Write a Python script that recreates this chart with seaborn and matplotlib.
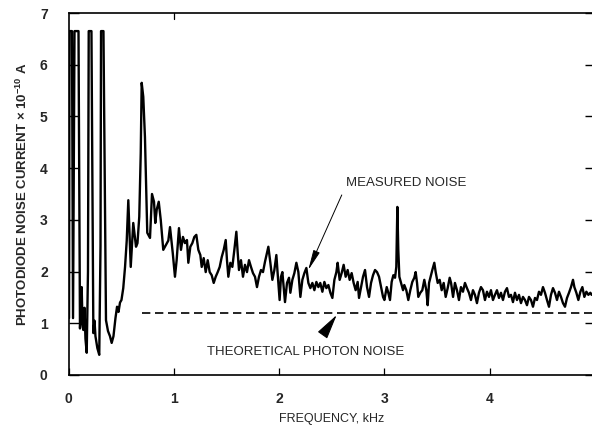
import matplotlib
matplotlib.use("Agg")
import matplotlib.pyplot as plt
import seaborn as sns
import numpy as np
import pandas as pd

# ---- data (kHz, noise current x 1e-10 A) ----
freq_low = [0.005, 0.0095, 0.033, 0.043, 0.057, 0.095, 0.109, 0.119, 0.125, 0.133,
            0.141, 0.152, 0.161, 0.173, 0.185, 0.192, 0.218, 0.236, 0.247, 0.256,
            0.274, 0.292, 0.304, 0.309, 0.332, 0.356, 0.375, 0.394, 0.410, 0.427,
            0.446, 0.461, 0.475, 0.489, 0.503, 0.520, 0.537, 0.553, 0.568, 0.591,
            0.615, 0.641, 0.655, 0.672, 0.686, 0.695, 0.710, 0.726, 0.748, 0.774,
            0.793, 0.812, 0.824, 0.838, 0.857, 0.876, 0.900, 0.921, 0.948, 0.964,
            0.990, 1.002]
noise_low = [1.10, 6.65, 6.65, 1.10, 6.65, 6.65, 0.90, 1.30, 1.70, 1.00,
             0.87, 1.30, 0.70, 0.43, 2.00, 6.65, 6.65, 0.81, 1.05, 0.75,
             0.52, 0.39, 2.50, 6.65, 6.65, 1.06, 0.85, 0.75, 0.62, 0.75,
             1.10, 1.32, 1.22, 1.40, 1.45, 1.68, 2.09, 2.60, 3.38, 2.09,
             2.94, 2.48, 2.55, 3.06, 4.29, 5.65, 5.38, 4.60, 2.75, 2.65,
             3.50, 3.35, 2.94, 3.20, 3.35, 3.00, 2.42, 2.50, 2.60, 2.86,
             2.36, 2.10]

freq_mid = [1.011, 1.027, 1.049, 1.068, 1.087, 1.106, 1.125, 1.138, 1.157, 1.176,
            1.195, 1.214, 1.233, 1.252, 1.265, 1.284, 1.303, 1.322, 1.341, 1.360,
            1.379, 1.398, 1.417, 1.436, 1.455, 1.474, 1.493, 1.505, 1.518, 1.537,
            1.556, 1.575, 1.594, 1.607, 1.619, 1.638, 1.657, 1.676, 1.695, 1.714,
            1.733, 1.752, 1.771, 1.790, 1.809, 1.828, 1.847, 1.866, 1.885, 1.898,
            1.917, 1.936, 1.955, 1.974, 1.986, 2.005, 2.018, 2.031, 2.043, 2.056,
            2.075, 2.094, 2.107, 2.126, 2.145, 2.164, 2.183, 2.202, 2.221, 2.240,
            2.259, 2.278, 2.297, 2.316, 2.335, 2.354, 2.373, 2.391, 2.411, 2.430,
            2.449, 2.468, 2.487, 2.506, 2.525, 2.544, 2.556, 2.575, 2.594, 2.613,
            2.632, 2.651, 2.670, 2.689, 2.708, 2.727, 2.746, 2.759, 2.778, 2.797,
            2.816, 2.835, 2.854, 2.873, 2.892, 2.911, 2.930, 2.949, 2.968, 2.987,
            3.000]
noise_mid = [1.90, 2.22, 2.84, 2.42, 2.67, 2.55, 2.61, 2.17, 2.48, 2.55,
             2.67, 2.71, 2.42, 2.32, 2.09, 2.26, 1.99, 2.22, 1.99, 1.93,
             1.78, 1.90, 1.99, 2.09, 2.28, 2.42, 2.61, 2.22, 1.90, 2.17,
             2.09, 2.42, 2.77, 2.36, 2.03, 2.22, 1.90, 2.13, 1.99, 2.22,
             2.09, 1.97, 1.90, 1.70, 1.90, 2.03, 1.99, 2.19, 2.36, 2.48,
             2.17, 1.84, 2.03, 2.32, 1.97, 1.45, 1.90, 1.99, 1.70, 1.41,
             1.78, 1.88, 1.59, 1.84, 1.97, 2.17, 1.99, 1.51, 1.84, 1.97,
             2.07, 1.78, 1.68, 1.78, 1.64, 1.80, 1.70, 1.78, 1.61, 1.80,
             1.68, 1.74, 1.59, 1.49, 1.84, 1.99, 2.17, 1.84, 1.97, 2.13,
             1.90, 2.03, 1.84, 1.97, 1.78, 1.64, 1.80, 1.49, 1.70, 1.90,
             2.03, 1.70, 1.51, 1.78, 1.93, 2.03, 1.99, 1.90, 1.70, 1.51,
             1.45]

freq_high = [3.022, 3.037, 3.053, 3.069, 3.085, 3.101, 3.113, 3.123, 3.132, 3.142,
             3.158, 3.177, 3.189, 3.208, 3.227, 3.246, 3.265, 3.284, 3.297, 3.310,
             3.322, 3.341, 3.360, 3.379, 3.398, 3.411, 3.424, 3.436, 3.455, 3.474,
             3.487, 3.506, 3.525, 3.544, 3.563, 3.582, 3.601, 3.620, 3.633, 3.652,
             3.670, 3.689, 3.708, 3.727, 3.746, 3.765, 3.784, 3.803, 3.822, 3.841,
             3.860, 3.879, 3.898, 3.917, 3.936, 3.955, 3.974, 3.993, 4.012, 4.031,
             4.050, 4.069, 4.088, 4.107, 4.126, 4.145, 4.164, 4.183, 4.202, 4.221,
             4.240, 4.259, 4.278, 4.297, 4.316, 4.335, 4.354, 4.373, 4.392, 4.411,
             4.430, 4.449, 4.468, 4.487, 4.506, 4.525, 4.544, 4.563, 4.582, 4.601,
             4.620, 4.639, 4.658, 4.677, 4.696, 4.715, 4.734, 4.753, 4.772, 4.791,
             4.804, 4.823, 4.842, 4.861, 4.880, 4.899, 4.918, 4.937, 4.956, 4.968]
noise_high = [1.70, 1.59, 1.45, 1.80, 1.93, 1.88, 2.09, 3.25, 2.42, 1.90,
              1.78, 1.64, 1.74, 1.64, 1.45, 1.64, 1.80, 1.88, 1.99, 1.78,
              1.51, 1.59, 1.64, 1.84, 1.64, 1.35, 1.78, 1.88, 2.03, 2.17,
              1.99, 1.78, 1.84, 1.64, 1.78, 1.51, 1.68, 1.88, 1.78, 1.51,
              1.78, 1.64, 1.45, 1.70, 1.61, 1.78, 1.68, 1.59, 1.45, 1.64,
              1.55, 1.39, 1.59, 1.70, 1.64, 1.45, 1.61, 1.51, 1.64, 1.45,
              1.55, 1.64, 1.49, 1.59, 1.45, 1.61, 1.68, 1.51, 1.55, 1.41,
              1.59, 1.45, 1.55, 1.39, 1.51, 1.45, 1.35, 1.51, 1.45, 1.32,
              1.49, 1.45, 1.61, 1.55, 1.70, 1.59, 1.45, 1.32, 1.55, 1.68,
              1.59, 1.45, 1.61, 1.51, 1.39, 1.32, 1.49, 1.59, 1.70, 1.84,
              1.70, 1.59, 1.45, 1.61, 1.70, 1.51, 1.61, 1.55, 1.59, 1.55]

photon_level = 1.2
photon_start = 0.70
x_ticks = [0, 1, 2, 3, 4, 5]
y_ticks = [0, 1, 2, 3, 4, 5, 6, 7]

# ---- style ----
sns.set_theme(style="ticks")
plt.rcParams['font.family'] = ['Liberation Sans', 'DejaVu Sans']
plt.rcParams['mathtext.fontset'] = 'custom'
plt.rcParams['mathtext.rm'] = 'Liberation Sans'
plt.rcParams['mathtext.bf'] = 'Liberation Sans:bold'

fig = plt.figure(figsize=(5.92, 4.29), dpi=100)
ax = fig.add_axes([68.5 / 592, 54 / 429, 526.5 / 592, 362 / 429])

df = pd.DataFrame({
    "freq": freq_low + freq_mid + freq_high,
    "noise": noise_low + noise_mid + noise_high,
})
sns.lineplot(data=df, x="freq", y="noise", sort=False, estimator=None,
             color="black", linewidth=1.7, ax=ax)

photon = pd.DataFrame({"freq": [photon_start, 5.0], "noise": [photon_level, photon_level]})
sns.lineplot(data=photon, x="freq", y="noise", color="black", linewidth=1.2,
             ax=ax, estimator=None)
ax.lines[-1].set_dashes((5, 2.8))

ax.set_xlim(0, 5)
ax.set_ylim(0, 7)
ax.set_xticks(x_ticks)
ax.set_yticks(y_ticks)
ax.set_xticklabels([str(t) for t in x_ticks], fontweight="bold", fontsize=10)
ax.set_yticklabels([str(t) for t in y_ticks], fontweight="bold", fontsize=10)
ax.tick_params(axis="y", direction="in", length=7, width=1.0, pad=15,
               left=True, right=True, color="black")
ax.tick_params(axis="x", direction="in", length=5, width=0.9, pad=12,
               bottom=True, top=False, color="black")
for s in ax.spines.values():
    s.set_color("black")
    s.set_linewidth(1.2)

# single top tick at 1 kHz
ax.plot([1, 1], [7, 6.88], color="black", lw=0.9, clip_on=False)

ax.set_xlabel("FREQUENCY, kHz", fontsize=9, labelpad=5)
ax.set_ylabel(r"PHOTODIODE NOISE CURRENT × 10$^{\mathbf{-10}}$ A",
              fontsize=9.5, fontweight="bold", labelpad=7)

ax.annotate("MEASURED NOISE", xy=(2.277, 2.03), xytext=(2.635, 3.71),
            fontsize=9.5, va="center", ha="left",
            arrowprops=dict(arrowstyle="-|>,head_length=1.3,head_width=0.22",
                            color="black", lw=0.7, shrinkA=2, shrinkB=0,
                            relpos=(0, 0.3)))
ax.annotate("", xy=(2.547, 1.16), xytext=(2.436, 0.84),
            arrowprops=dict(arrowstyle="-|>,head_length=1.3,head_width=0.3",
                            color="black", lw=0.8, shrinkA=0, shrinkB=0))
ax.text(2.255, 0.445, "THEORETICAL PHOTON NOISE", fontsize=9.5,
        ha="center", va="center")

fig.savefig("out.png", dpi=100)
